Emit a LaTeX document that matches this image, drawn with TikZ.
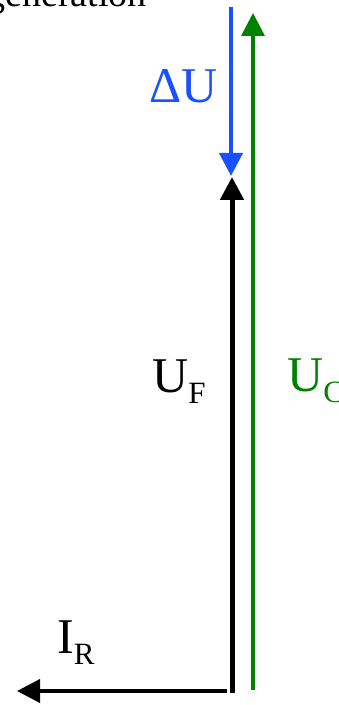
\documentclass[tikz,border=0pt]{standalone}
\usepackage{fontspec}
\setmainfont{Liberation Serif}
\usepackage{xcolor}
\usepackage{tikz}
\usetikzlibrary{arrows.meta}

\definecolor{dublue}{RGB}{25,80,255}
\definecolor{ucgreen}{RGB}{0,130,0}

\newcommand{\vsub}[1]{\raisebox{-11pt}{\fontsize{31}{31}\selectfont #1}}

\begin{document}
\begin{tikzpicture}[
    x=1pt, y=1pt,
    phasor/.style={-{Triangle[length=23pt, width=23pt]}},
    vlabel/.style={inner sep=0pt, anchor=base west, font=\fontsize{50}{50}\selectfont}
]
\useasboundingbox (0,0) rectangle (339,705);

% Cut-off caption
\node[inner sep=0pt, anchor=base east, font=\fontsize{38}{38}\selectfont] (caption) at (147,698) {generation};

% End points
\coordinate (o) at (232,12);
\coordinate (uf) at (232,528);
\coordinate (dtop) at (231,698);
\coordinate (dtip) at (231,529);
\coordinate (gbot) at (253,15);
\coordinate (uc) at (253,692);
\coordinate (ir0) at (227,14);
\coordinate (ir) at (17,14);

% Labels
\node[vlabel, text=dublue] (dulabel) at (149,602) {ΔU};
\node[vlabel] (uflabel) at (152,312) {U\vsub{F}};
\node[vlabel, text=ucgreen] (uclabel) at (287,313) {U\vsub{C}};
\node[vlabel] (irlabel) at (57,52) {I\vsub{R}};

% Phasors
\draw[phasor, line width=5pt] (o) -- (uf);
\draw[phasor, line width=4pt, dublue] (dtop) -- (dtip);
\draw[phasor, line width=3.5pt, ucgreen] (gbot) -- (uc);
\draw[phasor, line width=4pt] (ir0) -- (ir);

\end{tikzpicture}
\end{document}
